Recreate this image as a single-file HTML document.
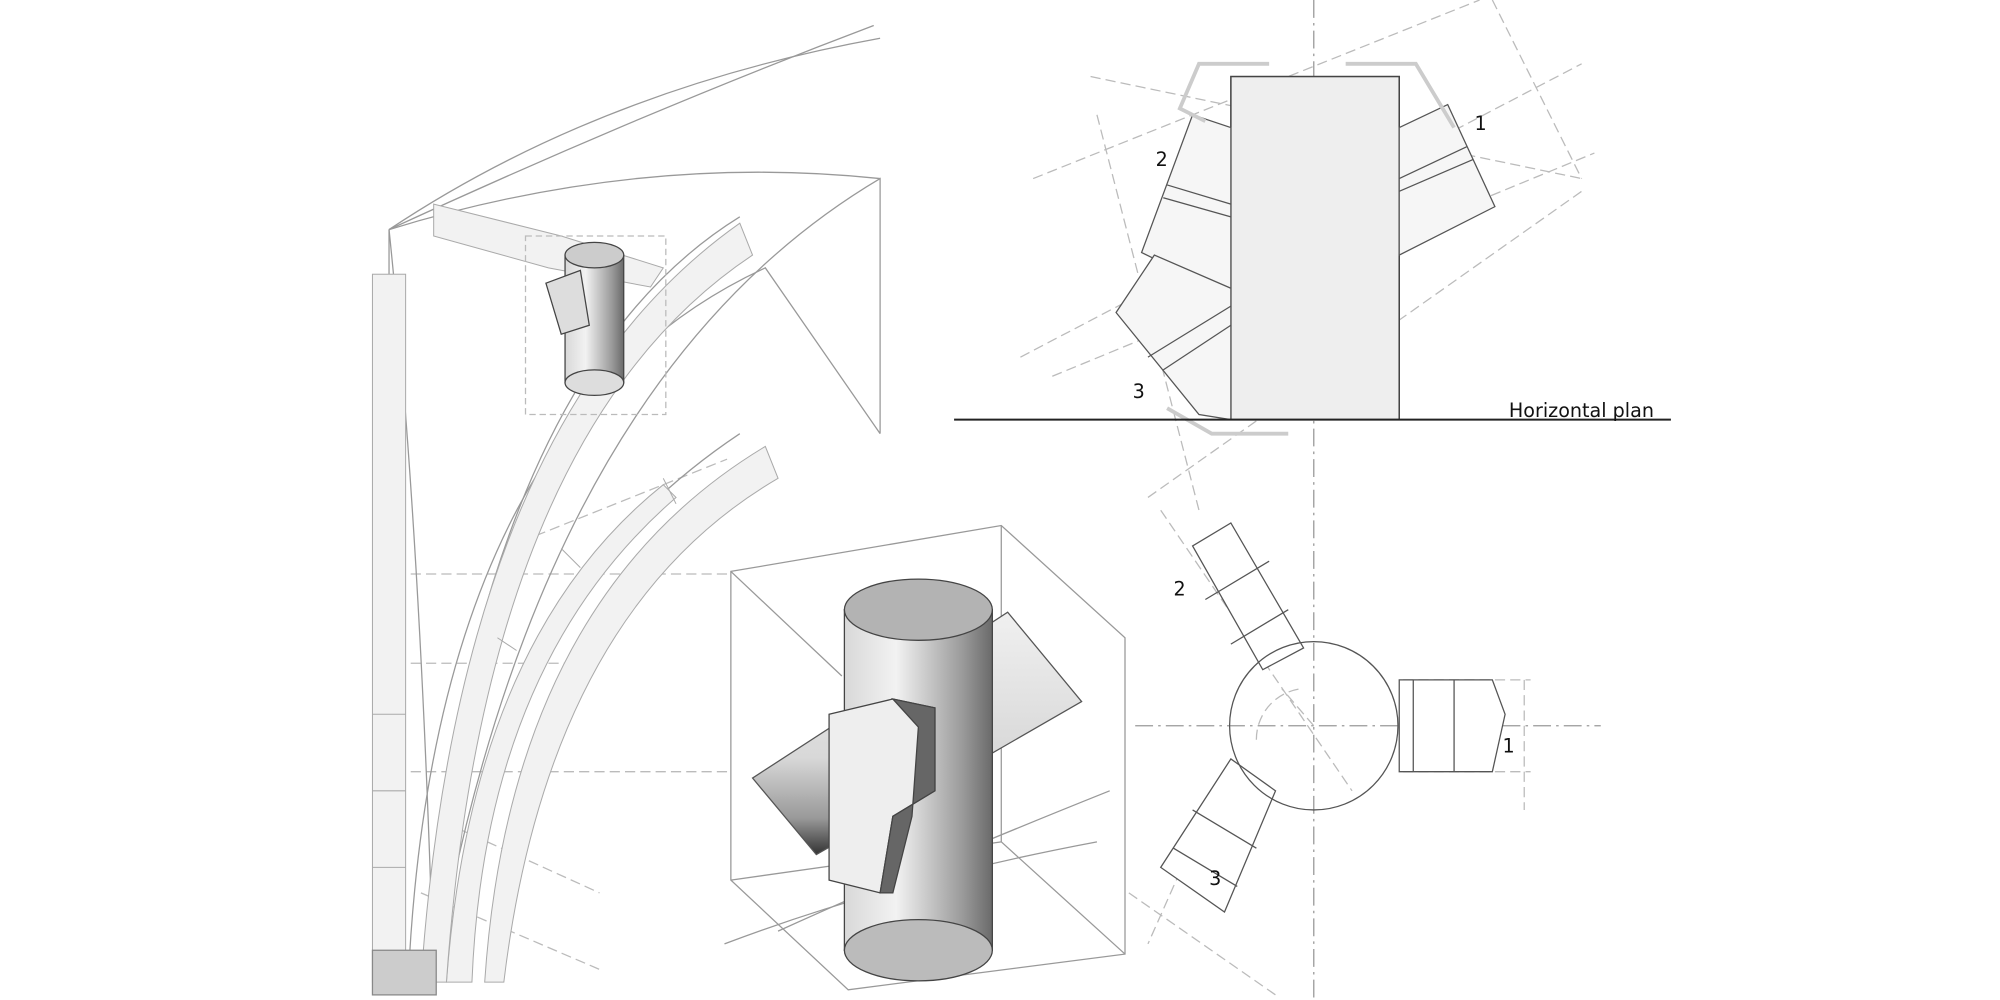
<!DOCTYPE html>
<html><head><meta charset="utf-8"><style>
html,body{margin:0;padding:0;background:#fff}
svg{display:block}
text{font-family:"DejaVu Sans","Liberation Sans",sans-serif;fill:#111}
</style></head><body>
<svg width="2000" height="1000" viewBox="0 0 1568 784" xmlns="http://www.w3.org/2000/svg">
<defs>
<linearGradient id="cyl" x1="0" x2="1" y1="0" y2="0">
<stop offset="0" stop-color="#d8d8d8"/><stop offset="0.35" stop-color="#f2f2f2"/><stop offset="0.8" stop-color="#9a9a9a"/><stop offset="1" stop-color="#6a6a6a"/></linearGradient>
<linearGradient id="beam" x1="0" x2="0" y1="0" y2="1">
<stop offset="0" stop-color="#f0f0f0"/><stop offset="0.6" stop-color="#d8d8d8"/><stop offset="0.85" stop-color="#999"/><stop offset="1" stop-color="#333"/></linearGradient>
</defs>
<g fill="none" stroke="#bbb" stroke-width="1" stroke-dasharray="8,4">
<line x1="1030" y1="0" x2="1030" y2="784" stroke="#999" stroke-dasharray="14,4,2,4"/>
<line x1="890" y1="569" x2="1255" y2="569" stroke="#999" stroke-dasharray="14,4,2,4"/>
<line x1="855" y1="60" x2="1240" y2="140"/>
<line x1="810" y1="140" x2="1160" y2="0"/>
<line x1="800" y1="280" x2="1240" y2="50"/>
<line x1="825" y1="295" x2="1250" y2="120"/>
<line x1="900" y1="390" x2="1240" y2="150"/>
<line x1="860" y1="90" x2="940" y2="400"/>
<line x1="1170" y1="0" x2="1240" y2="140"/>
<line x1="910" y1="400" x2="1060" y2="620"/>
<line x1="1100" y1="533" x2="1200" y2="533"/>
<line x1="1100" y1="605" x2="1200" y2="605"/>
<line x1="1195" y1="533" x2="1195" y2="635"/>
<line x1="885" y1="700" x2="1000" y2="780"/>
<line x1="940" y1="650" x2="900" y2="740"/>
<line x1="310" y1="450" x2="570" y2="450"/>
<line x1="310" y1="605" x2="570" y2="605"/>
<line x1="310" y1="520" x2="470" y2="520"/>
<line x1="360" y1="650" x2="470" y2="700"/>
<line x1="330" y1="700" x2="470" y2="760"/>
<line x1="420" y1="420" x2="570" y2="360"/>
<path d="M985,580 A40,40 0 0 1 1020,540"/>
<line x1="1030" y1="569" x2="1005" y2="540"/>
</g>
<!-- top plan -->
<rect x="965" y="60" width="132" height="269" fill="#eee" stroke="#444" stroke-width="1.2"/>
<g fill="#f6f6f6" stroke="#555" stroke-width="1">
<polygon points="1097,100 1135,82 1172,162 1097,200"/>
<line x1="1097" y1="140" x2="1150" y2="115"/><line x1="1097" y1="150" x2="1155" y2="125"/>
<polygon points="965,100 935,90 895,198 965,232"/>
<line x1="915" y1="145" x2="965" y2="160"/><line x1="912" y1="155" x2="965" y2="170"/>
<polygon points="965,226 905,200 875,245 940,325 965,329"/>
<line x1="900" y1="280" x2="965" y2="240"/><line x1="912" y1="290" x2="965" y2="255"/>
</g>
<g fill="none" stroke="#ccc" stroke-width="3">
<polyline points="995,50 940,50 925,85 945,95"/><polyline points="1055,50 1110,50 1140,100"/>
<polyline points="915,320 950,340 1010,340"/>
</g>
<line x1="748" y1="329" x2="1310" y2="329" stroke="#222" stroke-width="1.6"/>
<text x="1183" y="327" font-size="15">Horizontal plan</text>
<text x="1156" y="102" font-size="15">1</text>
<text x="906" y="130" font-size="15">2</text>
<text x="888" y="312" font-size="15">3</text>
<!-- bottom plan -->
<g fill="#fff" stroke="#555" stroke-width="1">
<polygon points="935,428 965,410 1022,508 990,525"/>
<line x1="945" y1="470" x2="995" y2="440"/><line x1="965" y1="505" x2="1010" y2="478"/>
<polygon points="1097,533 1170,533 1180,560 1170,605 1097,605"/>
<line x1="1108" y1="533" x2="1108" y2="605"/><line x1="1140" y1="533" x2="1140" y2="605"/>
<polygon points="965,595 1000,620 960,715 910,680"/>
<line x1="935" y1="635" x2="985" y2="665"/><line x1="920" y1="665" x2="970" y2="695"/>
<circle cx="1030" cy="569" r="66" fill="none"/>
</g>
<text x="1178" y="590" font-size="15">1</text>
<text x="920" y="467" font-size="15">2</text>
<text x="948" y="694" font-size="15">3</text>
<!-- middle box -->
<g fill="none" stroke="#999" stroke-width="1">
<polygon points="573,448 785,412 882,500 882,748 665,776 573,690"/>
<line x1="573" y1="448" x2="660" y2="530"/><line x1="785" y1="412" x2="785" y2="660"/>
<line x1="573" y1="690" x2="785" y2="660"/><line x1="785" y1="660" x2="882" y2="748"/>
<path d="M568,740 Q700,690 860,660"/><path d="M610,730 Q720,680 870,620"/>
</g>
<polygon points="590,610 790,480 848,550 640,670" fill="url(#beam)" stroke="#555"/>
<rect x="662" y="478" width="116" height="267" fill="url(#cyl)" stroke="#444"/>
<ellipse cx="720" cy="745" rx="58" ry="24" fill="#bbb" stroke="#444"/>
<ellipse cx="720" cy="478" rx="58" ry="24" fill="#b3b3b3" stroke="#444"/>
<polygon points="650,560 700,548 733,555 733,620 700,640 690,700 650,690" fill="#eee" stroke="#444"/>
<polygon points="700,548 733,555 733,620 700,640 690,700 700,700 715,640 720,570" fill="#666" stroke="#444"/>
<!-- left arcs -->
<g fill="none" stroke="#999" stroke-width="1">
<path d="M305,180 Q470,70 690,30"/><path d="M305,180 Q500,120 690,140"/>
<path d="M305,180 Q500,90 685,20"/>
<path d="M305,180 Q330,420 340,770"/><path d="M305,180 L305,770"/>
<path d="M320,770 Q340,330 600,210 L690,340"/>
<path d="M330,770 Q370,300 580,170"/>
<path d="M355,770 Q370,480 580,340"/>
<path d="M340,770 Q420,300 690,140 L690,340"/>
</g>
<g fill="#f2f2f2" stroke="#aaa" stroke-width="0.8">
<rect x="292" y="215" width="26" height="555"/>
<path d="M350,770 Q370,500 520,380 L530,390 Q380,520 370,770Z"/>
<path d="M380,770 Q400,470 600,350 L610,375 Q430,480 395,770Z"/>
<path d="M330,770 Q360,330 580,175 L590,200 Q380,340 350,770Z"/>
<path d="M340,160 L440,185 L520,210 L510,225 L430,210 L340,185Z"/>
</g>
<g stroke="#aaa" stroke-width="0.8">
<line x1="292" y1="560" x2="318" y2="560"/><line x1="292" y1="620" x2="318" y2="620"/><line x1="292" y1="680" x2="318" y2="680"/>
<line x1="440" y1="430" x2="455" y2="445"/><line x1="520" y1="375" x2="530" y2="395"/><line x1="390" y1="500" x2="405" y2="510"/>
</g>
<rect x="292" y="745" width="50" height="35" fill="#ccc" stroke="#888"/>
<!-- small cylinder -->
<rect x="443" y="200" width="46" height="100" fill="url(#cyl)" stroke="#444"/>
<ellipse cx="466" cy="300" rx="23" ry="10" fill="#ddd" stroke="#444"/>
<ellipse cx="466" cy="200" rx="23" ry="10" fill="#ccc" stroke="#444"/>
<polygon points="428,222 455,212 462,255 440,262" fill="#ddd" stroke="#444"/>
<rect x="412" y="185" width="110" height="140" fill="none" stroke="#bbb" stroke-dasharray="5,3"/>
</svg>
</body></html>
